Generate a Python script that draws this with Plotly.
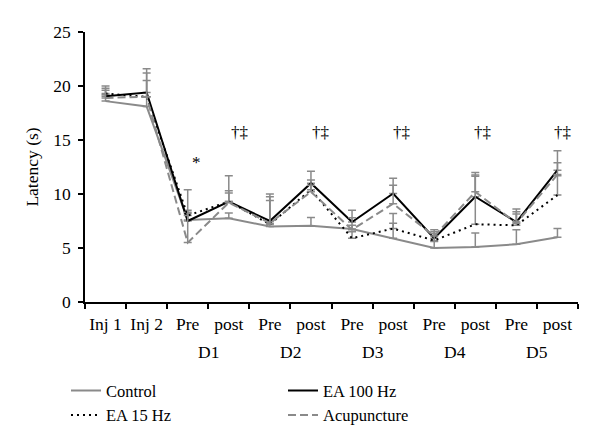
import plotly.graph_objects as go

categories = ["Inj 1", "Inj 2", "D1 pre", "D1 post", "D2 pre", "D2 post",
              "D3 pre", "D3 post", "D4 pre", "D4 post", "D5 pre", "D5 post"]
tick_labels = ["Inj 1", "Inj 2", "Pre", "post", "Pre", "post",
               "Pre", "post", "Pre", "post", "Pre", "post"]
day_labels = ["D1", "D2", "D3", "D4", "D5"]
day_positions = [2.5, 4.5, 6.5, 8.5, 10.5]

control = [18.6, 18.1, 7.6, 7.75, 7.0, 7.07, 6.75, 5.9, 5.0, 5.1, 5.35, 6.0]
control_err = [0.6, 0.9, 0.6, 0.5, 0.5, 0.75, 0.35, 1.4, 0.6, 1.3, 1.35, 0.8]

ea100 = [19.05, 19.4, 7.5, 9.3, 7.5, 11.0, 7.4, 10.05, 5.9, 9.75, 7.4, 12.2]
ea100_err = [0.95, 2.2, 1.0, 2.4, 2.5, 1.1, 1.1, 1.4, 0.8, 1.9, 1.2, 1.8]

ea15 = [19.3, 19.0, 8.0, 9.3, 7.2, 10.4, 5.9, 6.8, 5.7, 7.2, 7.1, 9.9]
ea15_err = [0.5, 2.2, 0.3, 0.8, 2.2, 0.4, 0.6, 1.4, 0.65, 4.8, 1.05, 1.8]

acup = [18.9, 19.0, 5.5, 9.2, 7.3, 10.2, 6.7, 9.1, 6.1, 10.2, 7.3, 11.8]
acup_err = [0.7, 1.5, 4.9, 1.1, 2.45, 1.1, 1.1, 1.7, 0.4, 1.55, 1.05, 1.1]

star_labels = ["*", "†‡", "†‡", "†‡", "†‡", "†‡"]
star_x = [2.21, 3.27, 5.22, 7.2, 9.18, 11.13]
star_y = [12.9, 15.7, 15.7, 15.7, 15.7, 15.7]

FONT = "Liberation Serif"
GRAY = "#8a8a8a"

def err(vals):
    return dict(type="data", array=vals, arrayminus=[0] * len(vals), symmetric=False,
                color=GRAY, thickness=1.5, width=4)

fig = go.Figure()
fig.add_trace(go.Scatter(x=categories, y=control, name="Control", mode="lines",
                         line=dict(color=GRAY, width=2), error_y=err(control_err)))
fig.add_trace(go.Scatter(x=categories, y=ea100, name="EA 100 Hz", mode="lines",
                         line=dict(color="black", width=2), error_y=err(ea100_err)))
fig.add_trace(go.Scatter(x=categories, y=ea15, name="EA 15 Hz", mode="lines",
                         line=dict(color="black", width=2, dash="2px,4px"), error_y=err(ea15_err)))
fig.add_trace(go.Scatter(x=categories, y=acup, name="Acupuncture", mode="lines",
                         line=dict(color=GRAY, width=2, dash="8px,4px"), error_y=err(acup_err)))

annotations = []
for lab, xv, yv in zip(star_labels, star_x, star_y):
    annotations.append(dict(x=xv, y=yv, xref="x", yref="y", text=lab, showarrow=False,
                            font=dict(family=FONT, size=17, color="black")))
for lab, xv in zip(day_labels, day_positions):
    annotations.append(dict(x=xv, y=0, xref="x", yref="y", text=lab, showarrow=False,
                            yanchor="middle", yshift=-50,
                            font=dict(family=FONT, size=17.5, color="black")))

fig.update_layout(
    width=600, height=447,
    margin=dict(l=85, r=22, t=32, b=145, autoexpand=False),
    paper_bgcolor="white", plot_bgcolor="white",
    font=dict(family=FONT, size=17.5, color="black"),
    showlegend=True,
    legend=dict(orientation="h", xref="container", yref="container",
                x=0.11, y=0.165, xanchor="left", yanchor="top",
                entrywidth=172, font=dict(family=FONT, size=16.5),
                bgcolor="rgba(0,0,0,0)"),
    annotations=annotations,
    xaxis=dict(type="category", categoryorder="array", categoryarray=categories,
               tickmode="array", tickvals=categories, ticktext=tick_labels,
               tickson="boundaries", ticks="outside", ticklen=5, tickwidth=1.5,
               tickangle=0, ticklabelstandoff=5,
               tickcolor="black", showline=True, linecolor="black", linewidth=1.5,
               showgrid=False, zeroline=False, range=[-0.5, 11.5],
               tickfont=dict(family=FONT, size=17.5)),
    yaxis=dict(range=[0, 25], dtick=5, ticks="outside", ticklen=5, tickwidth=1.5,
               tickcolor="black", showline=True, linecolor="black", linewidth=1.5,
               showgrid=False, zeroline=False, ticklabelstandoff=4,
               title=dict(text="Latency (s)", font=dict(family=FONT, size=17.5), standoff=10),
               tickfont=dict(family=FONT, size=17.5)),
)

fig.write_html("out.html", config={"displayModeBar": False},
               post_script="document.body.style.margin='0px';")
